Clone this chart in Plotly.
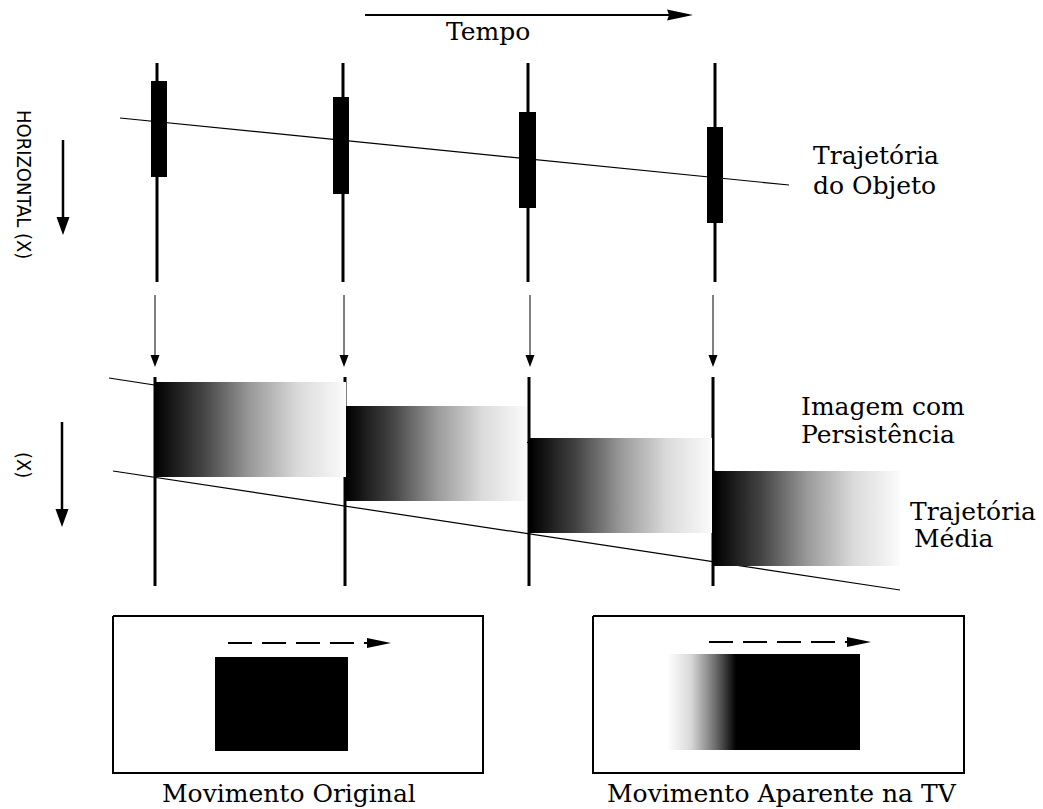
import plotly.graph_objects as go

W, H = 1043, 809

# ---------------- diagram geometry (pixel space of the reference) ----------------
# time axis arrow
time_arrow_x = [365, 693]
time_arrow_y = 15

# vertical "HORIZONTAL (X)" arrows
vert_arrow_x = [63, 62]
vert_arrow_y0 = [140, 422]
vert_arrow_y1 = [235, 527]

# top section: frames sampled over time
frame_x_top = [157, 343, 528, 715]
frame_top_y = [63, 282]
bar_left = [151, 333, 519, 707]
bar_right = [167, 349, 536, 723]
bar_top = [81, 97, 112, 127]
bar_bottom = [177, 194, 208, 223]
obj_traj_x = [120, 789]
obj_traj_y = [118, 185]

# linking arrows between sections
link_x = [155, 344, 530, 713]
link_y = [295, 367]

# bottom section: persistence images
frame_x_bot = [155, 345, 529, 713]
frame_bot_y = [377, 586]
persist_left = [154, 346, 530, 714]
persist_right = [346, 527, 712, 900]
persist_top = [382, 406, 438, 471]
persist_bottom = [477, 501, 533, 566]
upper_edge_x = [109, 720]
upper_edge_y = [378, 472]
mean_traj_x = [113, 900]
mean_traj_y = [471, 590]

# bottom boxes
box_left = [113, 593]
box_right = [483, 964]
box_top = 616
box_bottom = 773
square_left = [215, 736]
square_right = [348, 860]
square_top = [657, 654]
square_bottom = [751, 750]
blur_left = 667
dash_x0 = [228, 709]
dash_x1 = [391, 871]
dash_y = [643, 642]

# texts
labels = [
    ("Tempo", 488, 31, "center"),
    ("Trajetória", 811, 155, "left"),
    ("do Objeto", 811, 185, "left"),
    ("Imagem com", 799, 406, "left"),
    ("Persistência", 799, 434, "left"),
    ("Trajetória", 908, 511, "left"),
    ("Média", 912, 538, "left"),
    ("Movimento Original", 289, 793, "center"),
    ("Movimento Aparente na TV", 782, 793, "center"),
]
side_labels = [("HORIZONTAL (X)", 24, 184), ("(X)", 24, 465)]

# ---------------- styles ----------------
SERIF = "DejaVu Serif, Liberation Serif, serif"
NARROW = "Liberation Sans Narrow, DejaVu Sans Condensed, Arial Narrow, Liberation Sans, sans-serif"
persist_scale = [[0, "#000000"], [0.25, "#424242"], [0.5, "#999999"], [0.75, "#dadada"], [1, "#fbfbfb"]]
blur_scale = [[0, "#ffffff"], [0.35, "#d8d8d8"], [0.7, "#6e6e6e"], [1, "#000000"]]

fig = go.Figure()


def seg(x, y, width=1.2, dash=None, color="black"):
    fig.add_trace(go.Scatter(x=x, y=y, mode="lines",
                             line=dict(color=color, width=width, dash=dash),
                             hoverinfo="skip"))


def poly(x, y, color="black", gradient=None):
    kw = dict(fill="toself", mode="lines", line=dict(width=0, color=color), hoverinfo="skip")
    if gradient is not None:
        kw["fillgradient"] = dict(type="horizontal", colorscale=gradient)
    else:
        kw["fillcolor"] = color
    fig.add_trace(go.Scatter(x=x, y=y, **kw))


def rect(x0, x1, y0, y1, color="black", gradient=None):
    poly([x0, x1, x1, x0, x0], [y0, y0, y1, y1, y0], color, gradient)


def head(tx, ty, direction, length, half, notch=0.92):
    if direction == "down":
        poly([tx - half, tx + half, tx, tx - half], [ty - length, ty - length, ty, ty - length])
    else:  # right
        poly([tx - length, tx, tx - length, tx - length * notch, tx - length],
             [ty - half, ty, ty + half, ty, ty - half])


# time arrow
seg([time_arrow_x[0], time_arrow_x[1] - 20], [time_arrow_y, time_arrow_y], width=2)
head(time_arrow_x[1], time_arrow_y, "right", 26, 5.5)

# vertical axis arrows
for x, y0, y1 in zip(vert_arrow_x, vert_arrow_y0, vert_arrow_y1):
    seg([x, x], [y0, y1 - 12], width=2.5)
    head(x, y1, "down", 18, 6.5)

# top frames
seg(obj_traj_x, obj_traj_y, width=1.2)
for x in frame_x_top:
    seg([x, x], frame_top_y, width=3)
for l, r, t, b in zip(bar_left, bar_right, bar_top, bar_bottom):
    rect(l, r, t, b)

# linking arrows
for x in link_x:
    seg([x, x], [link_y[0], link_y[1] - 8], width=1)
    head(x, link_y[1], "down", 12, 4.5)

# bottom frames
seg(upper_edge_x, upper_edge_y, width=1.2)
seg(mean_traj_x, mean_traj_y, width=1.2)
for x in frame_x_bot:
    seg([x, x], frame_bot_y, width=3)
for l, r, t, b in zip(persist_left, persist_right, persist_top, persist_bottom):
    rect(l, r, t, b, gradient=persist_scale)

# bottom boxes
for i in range(2):
    seg([box_left[i], box_right[i], box_right[i], box_left[i], box_left[i]],
        [box_top, box_top, box_bottom, box_bottom, box_top], width=2)
    rect(square_left[i], square_right[i], square_top[i], square_bottom[i])
    seg([dash_x0[i], dash_x1[i] - 24], [dash_y[i], dash_y[i]], width=2.2, dash="24px,10px")
    head(dash_x1[i], dash_y[i], "right", 24, 5, notch=1.0)
rect(blur_left, square_left[1], square_top[1], square_bottom[1], gradient=blur_scale)

for text, x, y, anchor in labels:
    fig.add_annotation(x=x, y=y, text=text, showarrow=False, xanchor=anchor, yanchor="middle",
                       font=dict(family=SERIF, size=25, color="black"))
for text, x, y in side_labels:
    fig.add_annotation(x=x, y=y, text=text, showarrow=False, textangle=90,
                       xanchor="center", yanchor="middle",
                       font=dict(family=NARROW, size=20, color="black"))

fig.update_layout(
    width=W, height=H, margin=dict(l=0, r=0, t=0, b=0),
    paper_bgcolor="white", plot_bgcolor="white", showlegend=False, hovermode=False,
    xaxis=dict(range=[0, W], visible=False, fixedrange=True),
    yaxis=dict(range=[H, 0], visible=False, fixedrange=True),
)

fig.write_html("out.html", config={"displayModeBar": False},
               post_script="document.body.style.margin='0';document.body.style.overflow='hidden';")
